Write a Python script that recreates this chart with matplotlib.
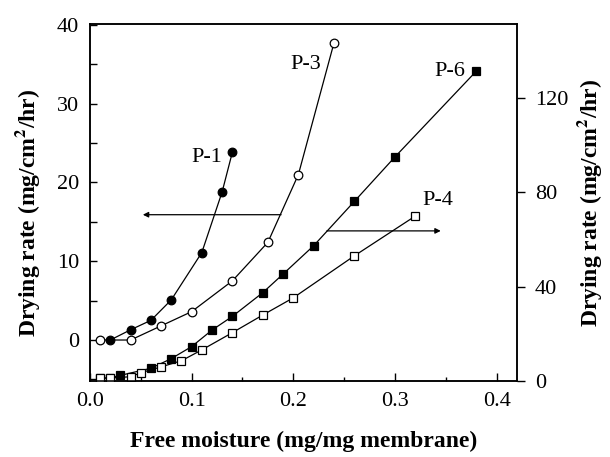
import matplotlib
matplotlib.use("Agg")
from matplotlib import pyplot as plt
from matplotlib.ticker import MultipleLocator

plt.rcParams['font.family'] = ['Liberation Serif', 'DejaVu Serif']
plt.rcParams['mathtext.fontset'] = 'stix'

# P-1 and P-3 (left axis)
p1_x = [0.02, 0.04, 0.06, 0.08, 0.11, 0.13, 0.14]
p1_y = [0.0, 1.3, 2.5, 5.1, 11.1, 18.8, 23.8]
p3_x = [0.01, 0.04, 0.07, 0.10, 0.14, 0.175, 0.205, 0.24]
p3_y = [0.0, 0.0, 1.8, 3.6, 7.5, 12.4, 21.0, 37.7]

# P-6 and P-4 (right axis)
p6_x = [0.01, 0.02, 0.03, 0.06, 0.08, 0.10, 0.12, 0.14, 0.17, 0.19, 0.22, 0.26, 0.30, 0.38]
p6_y = [1.2, 1.3, 2.4, 5.4, 9.5, 14.6, 21.6, 27.4, 37.5, 45.4, 57.4, 76.2, 95.1, 131.5]
p4_x = [0.01, 0.02, 0.04, 0.05, 0.07, 0.09, 0.11, 0.14, 0.17, 0.20, 0.26, 0.32]
p4_y = [1.2, 1.3, 1.8, 3.5, 6.0, 8.6, 13.2, 20.5, 28.0, 35.3, 53.1, 70.0]

fig = plt.figure(figsize=(6.1, 4.57), dpi=100)
ax = fig.add_axes([0.1475, 0.1663, 0.70, 0.7812])
ax2 = ax.twinx()

line_kw = dict(color='black', lw=0.9, markeredgecolor='black', markeredgewidth=0.9)
ax.plot(p3_x, p3_y, marker='o', ms=6.2, markerfacecolor='white', **line_kw)
ax.plot(p1_x, p1_y, marker='o', ms=6.2, markerfacecolor='black', **line_kw)
ax2.plot(p6_x, p6_y, marker='s', ms=5.6, markerfacecolor='black', **line_kw)
ax2.plot(p4_x, p4_y, marker='s', ms=5.6, markerfacecolor='white', **line_kw)

# curve labels
ax.text(0.1147, 23.2, 'P-1', fontsize=16, ha='center', va='center')
ax.text(0.212, 35.0, 'P-3', fontsize=16, ha='center', va='center')
ax2.text(0.354, 131.5, 'P-6', fontsize=16, ha='center', va='center')
ax2.text(0.342, 76.8, 'P-4', fontsize=16, ha='center', va='center')

# arrows showing which axis each pair belongs to
ax.annotate('', xy=(0.052, 15.9), xytext=(0.188, 15.9),
            arrowprops=dict(arrowstyle='-|>', color='black', lw=0.9,
                            mutation_scale=8, shrinkA=0, shrinkB=0))
ax2.annotate('', xy=(0.345, 63.7), xytext=(0.233, 63.7),
             arrowprops=dict(arrowstyle='-|>', color='black', lw=0.9,
                             mutation_scale=8, shrinkA=0, shrinkB=0))

ax.set_xlim(0, 0.42)
ax.set_ylim(-5.2, 40.1)
ax2.set_ylim(0, 151.5)

ax.xaxis.set_major_locator(MultipleLocator(0.1))
ax.xaxis.set_minor_locator(MultipleLocator(0.05))
ax.yaxis.set_major_locator(MultipleLocator(10))
ax.yaxis.set_minor_locator(MultipleLocator(5))
ax.set_xticks([0.0, 0.1, 0.2, 0.3, 0.4])
ax.set_xticklabels(['0.0', '0.1', '0.2', '0.3', '0.4'])
ax2.set_yticks([0, 40, 80, 120])

ax.tick_params(axis='x', which='major', direction='in', length=6, width=1, labelsize=16, pad=8)
ax.tick_params(axis='x', which='minor', direction='in', length=3, width=1)
ax.tick_params(axis='y', which='major', direction='in', length=5, width=1, labelsize=16, pad=8)
ax.tick_params(axis='y', which='minor', direction='in', length=5, width=1)
ax2.tick_params(axis='y', which='major', direction='out', length=6, width=1, labelsize=16, pad=7)

for a in (ax, ax2):
    for s in a.spines.values():
        s.set_linewidth(1.1)

ax.set_xlabel('Free moisture (mg/mg membrane)', fontsize=17, fontweight='bold', labelpad=14)
ax.set_ylabel('Drying rate (mg/cm$^\\mathbf{2}$/hr)', fontsize=17, fontweight='bold')
ax.yaxis.set_label_coords(-0.112, 0.47)
ax2.set_ylabel('Drying rate (mg/cm$^\\mathbf{2}$/hr)', fontsize=17, fontweight='bold', labelpad=5)

fig.savefig('out.png', dpi=100)
